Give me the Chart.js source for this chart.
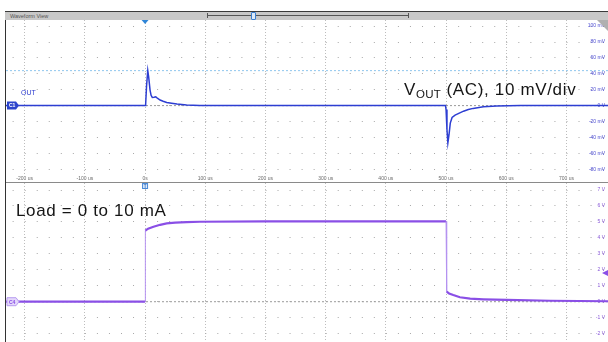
<!DOCTYPE html>
<html>
<head>
<meta charset="utf-8">
<script src="https://cdn.jsdelivr.net/npm/chart.js"></script>
<style>
  body { margin:0; width:608px; height:342px; background:#fff; position:relative; overflow:hidden; font-family:"Liberation Sans", Arial, sans-serif; }
  .abs { position:absolute; }
  #leftline { left:5px; top:11px; width:1px; height:331px; background:#333; }
  #bar { left:5px; top:11px; width:603px; height:8px; background:#c8c8c8; border-top:1px solid #3a3a3a; }
  #bar span { position:absolute; left:5px; top:1px; font-size:5.5px; color:#555; }
  #slider { left:207px; top:15px; width:202px; height:1px; background:#555; }
  #slider:before, #slider:after { content:""; position:absolute; top:-2px; width:1px; height:5px; background:#555; }
  #slider:before { left:0; } #slider:after { right:0; }
  #knob { left:251px; top:12px; width:3px; height:6px; border:1px solid #3a7fd0; background:#dce9f8; border-radius:1px; }
  #sep { left:6px; top:182px; width:602px; height:1px; background:#8a8a8a; }
  #corner { left:597px; top:20px; width:0; height:0; border-top:11px solid #b0b0b0; border-left:11px solid transparent; }
  #out { left:21px; top:89px; font-size:7px; color:#2c3cd0; }
  .note { font-size:17px; color:#151515; white-space:nowrap; letter-spacing:0.65px; }
  .note sub { font-size:11.5px; vertical-align:-3px; letter-spacing:0.3px; }
</style>
</head>
<body>
<canvas id="outChart" class="abs" style="left:6px;top:20px" width="602" height="162"></canvas>
<canvas id="loadChart" class="abs" style="left:6px;top:183px" width="602" height="159"></canvas>
<div id="leftline" class="abs"></div>
<div id="bar" class="abs"><span>Waveform View</span></div>
<div id="slider" class="abs"></div>
<div id="knob" class="abs"></div>
<div id="sep" class="abs"></div>
<div id="corner" class="abs"></div>
<div id="out" class="abs">OUT</div>
<div class="abs note" style="left:404px;top:80px">V<sub>OUT</sub> (AC), 10 mV/div</div>
<div class="abs note" style="left:16px;top:201px">Load = 0 to 10 mA</div>

<script>
// time axis, us
const timeTicks = [-200, -100, 0, 100, 200, 300, 400, 500, 600, 700];
const timeMin = -231, timeMax = 769;

// OUT channel (AC), mV
const outTicks = [-80, -60, -40, -20, 0, 20, 40, 60, 80, 100];
const outTime = [-231, -100, 0, 1, 2.5, 4.5, 6, 8.3, 10, 12, 15, 17.8, 21, 25, 30, 36, 44, 53, 69, 91, 150, 300, 499, 500, 501.5, 503, 505, 507, 510, 515, 522, 529, 537, 545, 562, 584, 623, 700, 769];
const outMv   = [0, 0, 0, 2, 25, 44, 36, 19.5, 13, 10.3, 10.5, 11, 9, 7, 5.5, 4, 3, 2, 0.8, 0, 0, 0, 0, -5, -30, -47, -36, -22, -15, -12, -9.5, -7, -5, -3.5, -1.5, -0.6, 0, 0, 0];
const outCursor = 44;

// Load channel, V
const loadTicks = [-2, -1, 0, 1, 2, 3, 4, 5, 6, 7];
const loadTime = [-231, -100, 0, 0.5, 5, 14, 25, 36, 50, 69, 91, 200, 350, 500, 501, 505, 512, 523, 540, 562, 601, 673, 769];
const loadV    = [0, 0, 0, 4.45, 4.58, 4.7, 4.82, 4.91, 4.96, 4.99, 5.01, 5.03, 5.03, 5.03, 0.63, 0.52, 0.42, 0.28, 0.19, 0.15, 0.11, 0.06, 0.03];
const loadLevel = 1.8;

function pts(xs, ys) { return xs.map((x, i) => ({x: x, y: ys[i]})); }

function badge(ctx, x, y, label, fill, text, stroke) {
  ctx.save();
  ctx.beginPath();
  ctx.moveTo(x, y - 4); ctx.lineTo(x + 9, y - 4); ctx.lineTo(x + 12, y);
  ctx.lineTo(x + 9, y + 4); ctx.lineTo(x, y + 4); ctx.closePath();
  ctx.fillStyle = fill; ctx.fill();
  if (stroke) { ctx.strokeStyle = stroke; ctx.lineWidth = 1; ctx.stroke(); }
  ctx.fillStyle = text; ctx.font = 'bold 5px "Liberation Sans"';
  ctx.textBaseline = 'middle'; ctx.fillText(label, x + 2, y + 0.5);
  ctx.restore();
}

const outDeco = {
  id: 'outDeco',
  afterDraw(chart) {
    const ctx = chart.ctx, xs = chart.scales.x, ys = chart.scales.y;
    const x0 = xs.getPixelForValue(0);
    ctx.save();
    ctx.fillStyle = '#2f86d8';
    ctx.beginPath(); ctx.moveTo(x0 - 3.5, 0); ctx.lineTo(x0 + 3.5, 0); ctx.lineTo(x0, 4); ctx.closePath(); ctx.fill();
    ctx.restore();
    badge(ctx, 1, ys.getPixelForValue(0), 'C1', '#2c44cc', '#fff');
  }
};

const loadDeco = {
  id: 'loadDeco',
  afterDraw(chart) {
    const ctx = chart.ctx, xs = chart.scales.x, ys = chart.scales.y;
    const x0 = xs.getPixelForValue(0);
    ctx.save();
    ctx.fillStyle = '#dbe9fa'; ctx.strokeStyle = '#4a8ad8'; ctx.lineWidth = 1;
    ctx.fillRect(x0 - 2.5, 0.5, 5, 5); ctx.strokeRect(x0 - 2.5, 0.5, 5, 5);
    ctx.fillStyle = '#2f6fc0'; ctx.font = 'bold 4.5px "Liberation Sans"';
    ctx.textAlign = 'center'; ctx.textBaseline = 'middle'; ctx.fillText('T', x0, 3.3);
    const yl = ys.getPixelForValue(loadLevel), xr = chart.width;
    ctx.fillStyle = '#8a4fe6';
    ctx.beginPath(); ctx.moveTo(xr - 6, yl); ctx.lineTo(xr, yl - 3); ctx.lineTo(xr, yl + 3); ctx.closePath(); ctx.fill();
    ctx.restore();
    badge(ctx, 1, ys.getPixelForValue(0), 'C4', '#e4d8fb', '#8a4fe6', '#b89cf0');
  }
};

// steep edges of the scope trace look thin and faint
function edge(thin, thick, colThin, col) {
  return {
    borderWidth: c => Math.abs(c.p1.parsed.x - c.p0.parsed.x) < 1.2 && Math.abs(c.p1.y - c.p0.y) > 8 ? thin : thick,
    borderColor: c => Math.abs(c.p1.parsed.x - c.p0.parsed.x) < 1.2 && Math.abs(c.p1.y - c.p0.y) > 8 ? colThin : col
  };
}

function makeChart(id, opts) {
  return new Chart(document.getElementById(id), {
    type: 'line',
    data: {
      datasets: [{
        data: opts.trace, borderColor: opts.color, borderWidth: opts.width,
        pointRadius: 0, tension: 0, segment: opts.segment
      }, {
        data: pts([timeMin, timeMax], [0, 0]), borderColor: '#9a9a9a', borderWidth: 1,
        borderDash: [2, 2], pointRadius: 0
      }].concat(opts.extra || [])
    },
    options: {
      responsive: false,
      animation: false,
      layout: { padding: 0 },
      plugins: { legend: { display: false }, tooltip: { enabled: false } },
      scales: {
        x: {
          type: 'linear', min: timeMin, max: timeMax,
          afterBuildTicks: s => { s.ticks = timeTicks.map(v => ({value: v})); },
          afterFit: s => { s.height = opts.xHeight; s.paddingLeft = 0; s.paddingRight = 0; },
          grid: { color: '#bdbdbd', drawTicks: false },
          border: { display: false, dash: [1, 2] },
          ticks: {
            display: opts.showX, autoSkip: false, maxRotation: 0, padding: 1,
            font: { size: 5, family: 'Liberation Sans' }, color: '#6a6a6a',
            callback: v => v === 0 ? '0s' : v + ' us'
          }
        },
        y: {
          position: 'right', min: opts.yMin, max: opts.yMax,
          afterBuildTicks: s => { s.ticks = opts.yTicks.map(v => ({value: v})); },
          afterFit: s => { s.width = 0; s.paddingTop = 0; s.paddingBottom = 0; },
          grid: { color: '#a8a8a8', drawTicks: false },
          border: { display: false, dash: [1, 11.04], dashOffset: 5.4 },
          ticks: {
            mirror: true, padding: -3,
            font: { size: 5, family: 'Liberation Sans' }, color: opts.tickColor,
            callback: opts.fmt
          }
        }
      }
    },
    plugins: [opts.deco]
  });
}

makeChart('outChart', {
  trace: pts(outTime, outMv), color: '#2d3ed2', width: 1.5,
  extra: [{ data: pts([timeMin, timeMax], [outCursor, outCursor]), borderColor: '#8fc6ee',
            borderWidth: 1, borderDash: [2, 2], pointRadius: 0 }],
  yMin: -87.3, yMax: 107.7, yTicks: outTicks, tickColor: '#4b4bd0', xHeight: 7,
  fmt: v => v === 0 ? '0 V' : v + ' mV', showX: true, deco: outDeco
});

makeChart('loadChart', {
  trace: pts(loadTime, loadV), color: '#8a4fe6', width: 2.2,
  segment: edge(1, 2.2, '#b592f0', '#8a4fe6'),
  yMin: -2.525, yMax: 7.44, yTicks: loadTicks, tickColor: '#8a5ad8', xHeight: 0,
  fmt: v => v + ' V', showX: false, deco: loadDeco
});
</script>
</body>
</html>
